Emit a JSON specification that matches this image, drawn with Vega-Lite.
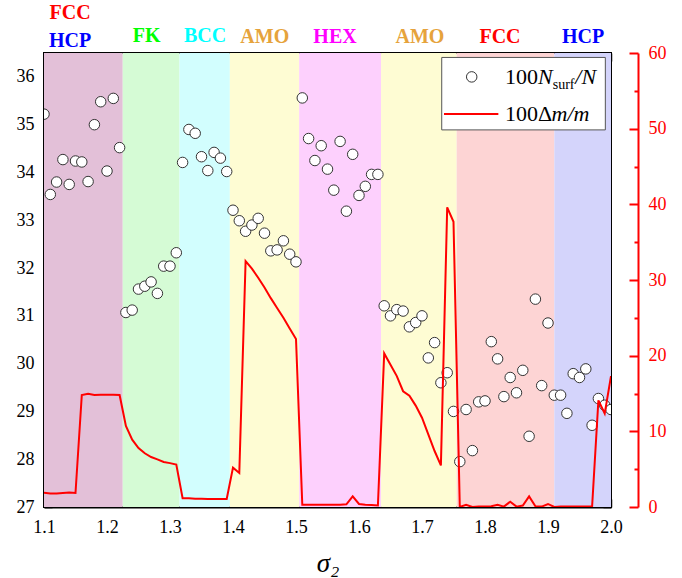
{
  "$schema": "https://vega.github.io/schema/vega-lite/v6.json",
  "width": 567,
  "height": 454,
  "autosize": {"type": "none"},
  "padding": {"left": 44, "top": 53, "right": 71, "bottom": 71},
  "background": "white",
  "config": {
    "font": "Liberation Serif",
    "view": {"stroke": "#000", "strokeWidth": 2},
    "axis": {"grid": false}
  },
  "datasets": {
    "bands": [
      {"s": 1.1, "s2": 1.225, "phase": "FCC/HCP"},
      {"s": 1.225, "s2": 1.315, "phase": "FK"},
      {"s": 1.315, "s2": 1.395, "phase": "BCC"},
      {"s": 1.395, "s2": 1.505, "phase": "AMO"},
      {"s": 1.505, "s2": 1.635, "phase": "HEX"},
      {"s": 1.635, "s2": 1.755, "phase": "AMO"},
      {"s": 1.755, "s2": 1.91, "phase": "FCC"},
      {"s": 1.91, "s2": 2.0, "phase": "HCP"}
    ],
    "pts": [
      {"s": 1.10, "v": 35.22}, {"s": 1.11, "v": 33.54}, {"s": 1.12, "v": 33.80}, {"s": 1.13, "v": 34.27},
      {"s": 1.14, "v": 33.75}, {"s": 1.15, "v": 34.24}, {"s": 1.16, "v": 34.22}, {"s": 1.17, "v": 33.81},
      {"s": 1.18, "v": 35.00}, {"s": 1.19, "v": 35.48}, {"s": 1.20, "v": 34.03}, {"s": 1.21, "v": 35.55},
      {"s": 1.22, "v": 34.52}, {"s": 1.23, "v": 31.07}, {"s": 1.24, "v": 31.12}, {"s": 1.25, "v": 31.56},
      {"s": 1.26, "v": 31.62}, {"s": 1.27, "v": 31.71}, {"s": 1.28, "v": 31.47}, {"s": 1.29, "v": 32.04},
      {"s": 1.30, "v": 32.04}, {"s": 1.31, "v": 32.32}, {"s": 1.32, "v": 34.21}, {"s": 1.33, "v": 34.90},
      {"s": 1.34, "v": 34.82}, {"s": 1.35, "v": 34.33}, {"s": 1.36, "v": 34.04}, {"s": 1.37, "v": 34.42},
      {"s": 1.38, "v": 34.30}, {"s": 1.39, "v": 34.02}, {"s": 1.40, "v": 33.21}, {"s": 1.41, "v": 32.99},
      {"s": 1.42, "v": 32.77}, {"s": 1.43, "v": 32.90}, {"s": 1.44, "v": 33.04}, {"s": 1.45, "v": 32.73},
      {"s": 1.46, "v": 32.36}, {"s": 1.47, "v": 32.38}, {"s": 1.48, "v": 32.57}, {"s": 1.49, "v": 32.29},
      {"s": 1.50, "v": 32.13}, {"s": 1.51, "v": 35.56}, {"s": 1.52, "v": 34.71}, {"s": 1.53, "v": 34.25},
      {"s": 1.54, "v": 34.56}, {"s": 1.55, "v": 34.07}, {"s": 1.56, "v": 33.63}, {"s": 1.57, "v": 34.65},
      {"s": 1.58, "v": 33.19}, {"s": 1.59, "v": 34.38}, {"s": 1.60, "v": 33.52}, {"s": 1.61, "v": 33.71},
      {"s": 1.62, "v": 33.96}, {"s": 1.63, "v": 33.96}, {"s": 1.64, "v": 31.21}, {"s": 1.65, "v": 31.00},
      {"s": 1.66, "v": 31.13}, {"s": 1.67, "v": 31.10}, {"s": 1.68, "v": 30.77}, {"s": 1.69, "v": 30.86},
      {"s": 1.70, "v": 31.00}, {"s": 1.71, "v": 30.12}, {"s": 1.72, "v": 30.44}, {"s": 1.73, "v": 29.60},
      {"s": 1.74, "v": 29.81}, {"s": 1.75, "v": 29.00}, {"s": 1.76, "v": 27.95}, {"s": 1.77, "v": 29.04},
      {"s": 1.78, "v": 28.18}, {"s": 1.79, "v": 29.20}, {"s": 1.80, "v": 29.22}, {"s": 1.81, "v": 30.46},
      {"s": 1.82, "v": 30.10}, {"s": 1.83, "v": 29.31}, {"s": 1.84, "v": 29.71}, {"s": 1.85, "v": 29.39},
      {"s": 1.86, "v": 29.86}, {"s": 1.87, "v": 28.48}, {"s": 1.88, "v": 31.35}, {"s": 1.89, "v": 29.54},
      {"s": 1.90, "v": 30.85}, {"s": 1.91, "v": 29.34}, {"s": 1.92, "v": 29.34}, {"s": 1.93, "v": 28.96},
      {"s": 1.94, "v": 29.79}, {"s": 1.95, "v": 29.71}, {"s": 1.96, "v": 29.89}, {"s": 1.97, "v": 28.71},
      {"s": 1.98, "v": 29.27}, {"s": 1.99, "v": 29.13}, {"s": 2.00, "v": 29.04}
    ],
    "dm": [
      {"s": 1.10, "d": 1.9}, {"s": 1.11, "d": 1.8}, {"s": 1.12, "d": 1.8}, {"s": 1.13, "d": 1.85},
      {"s": 1.14, "d": 1.9}, {"s": 1.15, "d": 1.85}, {"s": 1.16, "d": 14.8}, {"s": 1.17, "d": 14.95},
      {"s": 1.18, "d": 14.8}, {"s": 1.19, "d": 14.85}, {"s": 1.20, "d": 14.85}, {"s": 1.21, "d": 14.85},
      {"s": 1.22, "d": 14.8}, {"s": 1.23, "d": 10.7}, {"s": 1.24, "d": 8.9}, {"s": 1.25, "d": 7.8},
      {"s": 1.26, "d": 7.1}, {"s": 1.27, "d": 6.6}, {"s": 1.28, "d": 6.3}, {"s": 1.29, "d": 5.95},
      {"s": 1.30, "d": 5.8}, {"s": 1.31, "d": 5.6}, {"s": 1.32, "d": 1.15}, {"s": 1.33, "d": 1.15},
      {"s": 1.34, "d": 1.1}, {"s": 1.35, "d": 1.1}, {"s": 1.36, "d": 1.05}, {"s": 1.37, "d": 1.05},
      {"s": 1.38, "d": 1.05}, {"s": 1.39, "d": 1.05}, {"s": 1.40, "d": 5.2}, {"s": 1.41, "d": 4.5},
      {"s": 1.42, "d": 32.5}, {"s": 1.43, "d": 31.5}, {"s": 1.44, "d": 30.3}, {"s": 1.45, "d": 29.0},
      {"s": 1.46, "d": 27.6}, {"s": 1.47, "d": 26.3}, {"s": 1.48, "d": 25.0}, {"s": 1.49, "d": 23.6},
      {"s": 1.50, "d": 22.2}, {"s": 1.51, "d": 0.3}, {"s": 1.52, "d": 0.3}, {"s": 1.53, "d": 0.3},
      {"s": 1.54, "d": 0.3}, {"s": 1.55, "d": 0.3}, {"s": 1.56, "d": 0.3}, {"s": 1.57, "d": 0.3},
      {"s": 1.58, "d": 0.35}, {"s": 1.59, "d": 1.4}, {"s": 1.60, "d": 0.4}, {"s": 1.61, "d": 0.3},
      {"s": 1.62, "d": 0.25}, {"s": 1.63, "d": 0.2}, {"s": 1.64, "d": 20.3}, {"s": 1.65, "d": 18.8},
      {"s": 1.66, "d": 17.3}, {"s": 1.67, "d": 15.3}, {"s": 1.68, "d": 14.7}, {"s": 1.69, "d": 13.4},
      {"s": 1.70, "d": 11.8}, {"s": 1.71, "d": 9.6}, {"s": 1.72, "d": 7.4}, {"s": 1.73, "d": 5.5},
      {"s": 1.74, "d": 39.6}, {"s": 1.75, "d": 37.7}, {"s": 1.76, "d": 0.0}, {"s": 1.77, "d": 0.3},
      {"s": 1.78, "d": 0.0}, {"s": 1.79, "d": 0.05}, {"s": 1.80, "d": 0.05}, {"s": 1.81, "d": 0.1},
      {"s": 1.82, "d": 0.3}, {"s": 1.83, "d": 0.05}, {"s": 1.84, "d": 0.7}, {"s": 1.85, "d": 0.05},
      {"s": 1.86, "d": 0.2}, {"s": 1.87, "d": 1.4}, {"s": 1.88, "d": 0.1}, {"s": 1.89, "d": 0.05},
      {"s": 1.90, "d": 0.4}, {"s": 1.91, "d": 0.0}, {"s": 1.92, "d": 0.05}, {"s": 1.93, "d": 0.05},
      {"s": 1.94, "d": 0.05}, {"s": 1.95, "d": 0.05}, {"s": 1.96, "d": 0.05}, {"s": 1.97, "d": 0.05},
      {"s": 1.98, "d": 14.1}, {"s": 1.99, "d": 12.35}, {"s": 2.00, "d": 17.3}
    ],
    "phases": [
      {"s": 1.1413, "y": 37.335, "label": "FCC"},
      {"s": 1.1413, "y": 36.742, "label": "HCP"},
      {"s": 1.263, "y": 36.86, "label": "FK"},
      {"s": 1.3556, "y": 36.847, "label": "BCC"},
      {"s": 1.4504, "y": 36.84, "label": "AMO"},
      {"s": 1.5619, "y": 36.84, "label": "HEX"},
      {"s": 1.6968, "y": 36.84, "label": "AMO"},
      {"s": 1.8238, "y": 36.84, "label": "FCC"},
      {"s": 1.9556, "y": 36.84, "label": "HCP"}
    ],
    "legbox": [{"s": 1.7313, "s2": 1.991, "y": 34.891, "y2": 36.407}],
    "legsym": [{"s": 1.7789, "y": 36.0}],
    "legline": [{"s": 1.7349, "d": 51.93}, {"s": 1.8212, "d": 51.93}],
    "legnormal": [
      {"s": 1.83175, "y": 35.848, "t": "100"},
      {"s": 1.83175, "y": 35.067, "t": "100"},
      {"s": 1.88413, "y": 35.067, "t": "Δ"}
    ],
    "legitalic": [
      {"s": 1.88413, "y": 35.848, "t": "N"},
      {"s": 1.94333, "y": 35.848, "t": "/N"},
      {"s": 1.90556, "y": 35.067, "t": "m/m"}
    ],
    "legsub": [{"s": 1.90746, "y": 35.743, "t": "surf"}]
  },
  "resolve": {
    "scale": {"y": "independent", "fill": "independent", "color": "independent"},
    "axis": {"x": "independent", "y": "independent"}
  },
  "layer": [
    {
      "data": {"name": "bands"},
      "mark": {"type": "rect"},
      "encoding": {
        "x": {
          "field": "s", "type": "quantitative",
          "scale": {"domain": [1.1, 2.0], "nice": false, "zero": false},
          "axis": {
            "orient": "bottom",
            "values": [1.1, 1.2, 1.3, 1.4, 1.5, 1.6, 1.7, 1.8, 1.9, 2.0],
            "format": ".1f", "labelFlush": false,
            "tickSize": -8, "tickWidth": 1.5, "tickColor": "#000",
            "labelPadding": 19, "labelFont": "Liberation Serif", "labelFontSize": 18, "labelColor": "#000",
            "domainColor": "#000", "domainWidth": 2,
            "title": "σ₂", "titleFont": "Liberation Serif", "titleFontSize": 27,
            "titleFontStyle": "italic", "titleFontWeight": "normal", "titleColor": "#000", "titlePadding": 14
          }
        },
        "x2": {"field": "s2"},
        "fill": {
          "field": "phase", "type": "nominal", "legend": null,
          "scale": {
            "domain": ["FCC/HCP", "FK", "BCC", "AMO", "HEX", "FCC", "HCP"],
            "range": ["#e3c0d8", "#d5fbd5", "#d2fefe", "#fefcd3", "#fdd0fd", "#fdd4d4", "#d4d4fb"]
          }
        }
      }
    },
    {
      "data": {"name": "pts"},
      "mark": {"type": "point", "shape": "circle", "filled": true, "fill": "#ffffff", "stroke": "#333333", "strokeWidth": 1, "size": 110, "opacity": 1, "clip": true},
      "encoding": {
        "x": {
          "field": "s", "type": "quantitative",
          "scale": {"domain": [1.1, 2.0], "nice": false, "zero": false},
          "axis": {
            "orient": "bottom",
            "values": [1.15, 1.25, 1.35, 1.45, 1.55, 1.65, 1.75, 1.85, 1.95],
            "tickSize": -4, "tickWidth": 1.5, "tickColor": "#000",
            "labels": false, "domain": false, "title": null
          }
        },
        "y": {
          "field": "v", "type": "quantitative",
          "scale": {"domain": [27, 36.5], "nice": false, "zero": false},
          "axis": {
            "orient": "left",
            "values": [27, 28, 29, 30, 31, 32, 33, 34, 35, 36],
            "tickSize": -8, "tickWidth": 1.5, "tickColor": "#000",
            "labelPadding": 18, "labelFont": "Liberation Serif", "labelFontSize": 18, "labelColor": "#000",
            "labelFlush": false,
            "domainColor": "#000", "domainWidth": 2, "title": null
          }
        }
      }
    },
    {
      "data": {"name": "dm"},
      "mark": {"type": "line", "color": "#ff0000", "strokeWidth": 2, "clip": true},
      "encoding": {
        "x": {
          "field": "s", "type": "quantitative",
          "scale": {"domain": [1.1, 2.0], "nice": false, "zero": false},
          "axis": null
        },
        "y": {
          "field": "d", "type": "quantitative",
          "scale": {"domain": [0, 60], "nice": false},
          "axis": {
            "orient": "right", "offset": 27,
            "values": [0, 10, 20, 30, 40, 50, 60],
            "tickSize": -9, "tickWidth": 2, "tickColor": "#ff0000",
            "labelPadding": 19, "labelFont": "Liberation Serif", "labelFontSize": 18, "labelColor": "#ff0000",
            "labelFlush": false,
            "domainColor": "#ff0000", "domainWidth": 2, "title": null
          }
        }
      }
    },
    {
      "data": {"name": "phases"},
      "mark": {"type": "text", "font": "Liberation Serif", "fontWeight": "bold", "fontSize": 20, "baseline": "middle", "align": "center"},
      "encoding": {
        "x": {
          "field": "s", "type": "quantitative",
          "scale": {"domain": [1.1, 2.0], "nice": false, "zero": false},
          "axis": {
            "orient": "top",
            "values": [1.1, 1.2, 1.3, 1.4, 1.5, 1.6, 1.7, 1.8, 1.9, 2.0],
            "tickSize": -8, "tickWidth": 1.5, "tickColor": "#000",
            "labels": false, "domain": false, "title": null
          }
        },
        "y": {
          "field": "y", "type": "quantitative",
          "scale": {"domain": [27, 36.5], "nice": false, "zero": false},
          "axis": {
            "orient": "right",
            "values": [27, 28, 29, 30, 31, 32, 33, 34, 35, 36],
            "tickSize": -8, "tickWidth": 1.5, "tickColor": "#000",
            "labels": false, "domain": false, "title": null
          }
        },
        "text": {"field": "label"},
        "color": {
          "field": "label", "type": "nominal", "legend": null,
          "scale": {
            "domain": ["FCC", "HCP", "FK", "BCC", "AMO", "HEX"],
            "range": ["#ff0000", "#0000ff", "#00ff00", "#00ffff", "#e6a33c", "#ff00ff"]
          }
        }
      }
    },
    {
      "data": {"name": "legbox"},
      "mark": {"type": "rect", "fill": "#ffffff", "stroke": "#555555", "strokeWidth": 1},
      "encoding": {
        "x": {
          "field": "s", "type": "quantitative",
          "scale": {"domain": [1.1, 2.0], "nice": false, "zero": false},
          "axis": {
            "orient": "top",
            "values": [1.15, 1.25, 1.35, 1.45, 1.55, 1.65, 1.75, 1.85, 1.95],
            "tickSize": -4, "tickWidth": 1.5, "tickColor": "#000",
            "labels": false, "domain": false, "title": null
          }
        },
        "x2": {"field": "s2"},
        "y": {
          "field": "y", "type": "quantitative",
          "scale": {"domain": [27, 36.5], "nice": false, "zero": false},
          "axis": {
            "orient": "left",
            "values": [27.5, 28.5, 29.5, 30.5, 31.5, 32.5, 33.5, 34.5, 35.5],
            "tickSize": -5, "tickWidth": 1.5, "tickColor": "#000",
            "labels": false, "domain": false, "title": null
          }
        },
        "y2": {"field": "y2"}
      }
    },
    {
      "data": {"name": "legsym"},
      "mark": {"type": "point", "shape": "circle", "filled": true, "fill": "#ffffff", "stroke": "#333333", "strokeWidth": 1, "size": 110, "opacity": 1},
      "encoding": {
        "x": {
          "field": "s", "type": "quantitative",
          "scale": {"domain": [1.1, 2.0], "nice": false, "zero": false},
          "axis": null
        },
        "y": {
          "field": "y", "type": "quantitative",
          "scale": {"domain": [27, 36.5], "nice": false, "zero": false},
          "axis": {
            "orient": "right",
            "values": [27.5, 28.5, 29.5, 30.5, 31.5, 32.5, 33.5, 34.5, 35.5],
            "tickSize": -5, "tickWidth": 1.5, "tickColor": "#000",
            "labels": false, "domain": false, "title": null
          }
        }
      }
    },
    {
      "data": {"name": "legline"},
      "mark": {"type": "line", "color": "#ff0000", "strokeWidth": 2},
      "encoding": {
        "x": {
          "field": "s", "type": "quantitative",
          "scale": {"domain": [1.1, 2.0], "nice": false, "zero": false},
          "axis": null
        },
        "y": {
          "field": "d", "type": "quantitative",
          "scale": {"domain": [0, 60], "nice": false},
          "axis": {
            "orient": "right", "offset": 27,
            "values": [5, 15, 25, 35, 45, 55],
            "tickSize": -4, "tickWidth": 2, "tickColor": "#ff0000",
            "labels": false, "domain": false, "title": null
          }
        }
      }
    },
    {
      "data": {"name": "legnormal"},
      "mark": {"type": "text", "font": "Liberation Serif", "fontSize": 22, "align": "left", "baseline": "alphabetic", "color": "#000"},
      "encoding": {
        "x": {"field": "s", "type": "quantitative", "scale": {"domain": [1.1, 2.0], "nice": false, "zero": false}, "axis": null},
        "y": {"field": "y", "type": "quantitative", "scale": {"domain": [27, 36.5], "nice": false, "zero": false}, "axis": null},
        "text": {"field": "t"}
      }
    },
    {
      "data": {"name": "legitalic"},
      "mark": {"type": "text", "font": "Liberation Serif", "fontSize": 22, "fontStyle": "italic", "align": "left", "baseline": "alphabetic", "color": "#000"},
      "encoding": {
        "x": {"field": "s", "type": "quantitative", "scale": {"domain": [1.1, 2.0], "nice": false, "zero": false}, "axis": null},
        "y": {"field": "y", "type": "quantitative", "scale": {"domain": [27, 36.5], "nice": false, "zero": false}, "axis": null},
        "text": {"field": "t"}
      }
    },
    {
      "data": {"name": "legsub"},
      "mark": {"type": "text", "font": "Liberation Serif", "fontSize": 14, "align": "left", "baseline": "alphabetic", "color": "#000"},
      "encoding": {
        "x": {"field": "s", "type": "quantitative", "scale": {"domain": [1.1, 2.0], "nice": false, "zero": false}, "axis": null},
        "y": {"field": "y", "type": "quantitative", "scale": {"domain": [27, 36.5], "nice": false, "zero": false}, "axis": null},
        "text": {"field": "t"}
      }
    }
  ]
}
